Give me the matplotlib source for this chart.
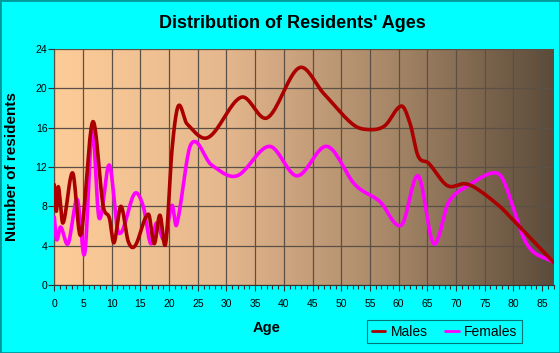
import numpy as np
import matplotlib
matplotlib.use("Agg")
import matplotlib.pyplot as plt
from matplotlib.colors import LinearSegmentedColormap
from matplotlib.patches import Rectangle

plt.rcParams['font.family'] = ['Liberation Sans', 'DejaVu Sans']

title = "Distribution of Residents' Ages"
xlabel = "Age"
ylabel = "Number of residents"

male_age = [0, 0.35, 0.7, 1.5, 3.2, 4.6, 6.7, 8.5, 9.6, 10.4, 11.6, 12.9, 14.1, 16.4,
            17.4, 18.4, 19.4, 20.5, 21.6, 23.1, 26.8, 32.6, 37.1, 42.7, 46.9, 52.1,
            55.0, 57.6, 60.5, 62.0, 63.4, 65.2, 68.5, 71.5, 73.6, 77.6, 80.3, 87]
male_val = [10.2, 7.5, 10.0, 6.3, 11.4, 5.1, 16.6, 8.1, 6.8, 4.3, 8.0, 4.4, 4.0, 7.2,
            4.2, 7.1, 4.2, 13.7, 18.2, 16.4, 15.0, 19.1, 17.0, 22.1, 19.5, 16.3,
            15.8, 16.2, 18.2, 16.4, 13.1, 12.4, 10.1, 10.3, 9.8, 8.0, 6.4, 2.3]

female_age = [0, 0.4, 1.1, 2.4, 4.0, 5.3, 6.6, 7.8, 9.6, 11.2, 14.0, 15.5, 16.8,
              17.8, 19.2, 20.5, 21.3, 23.8, 27.4, 31.8, 37.5, 42.3, 47.5, 52.4,
              56.7, 60.5, 63.4, 66.1, 68.7, 72.4, 76.4, 78.2, 82.3, 87]
female_val = [6.9, 4.6, 5.9, 4.2, 8.7, 3.2, 15.8, 6.8, 12.2, 5.3, 9.3, 8.0, 4.2,
              6.3, 4.6, 8.1, 6.1, 14.3, 12.2, 11.1, 14.1, 11.1, 14.1, 10.2,
              8.5, 6.1, 11.1, 4.2, 8.4, 10.2, 11.4, 10.7, 4.2, 2.3]

xticks = list(range(0, 90, 5))
yticks = list(range(0, 28, 4))


def smooth(xs, ys, n=20):
    xs = np.asarray(xs, float)
    ys = np.asarray(ys, float)
    m = np.zeros_like(ys)
    m[1:-1] = (ys[2:] - ys[:-2]) / (xs[2:] - xs[:-2])
    m[0] = (ys[1] - ys[0]) / (xs[1] - xs[0])
    m[-1] = (ys[-1] - ys[-2]) / (xs[-1] - xs[-2])
    ox, oy = [], []
    for i in range(len(xs) - 1):
        h = xs[i + 1] - xs[i]
        t = np.linspace(0, 1, n, endpoint=False)
        h00 = 2 * t**3 - 3 * t**2 + 1
        h10 = t**3 - 2 * t**2 + t
        h01 = -2 * t**3 + 3 * t**2
        h11 = t**3 - t**2
        ox.extend(xs[i] + t * h)
        oy.extend(h00 * ys[i] + h10 * h * m[i] + h01 * ys[i + 1] + h11 * h * m[i + 1])
    ox.append(xs[-1])
    oy.append(ys[-1])
    return np.array(ox), np.array(oy)


fig = plt.figure(figsize=(5.6, 3.53), dpi=100, facecolor='#00ffff')
ax = fig.add_axes([54.3 / 560, 1 - 285 / 353, (553.6 - 54.3) / 560, (285 - 49) / 353])
ax.set_xlim(0, 87)
ax.set_ylim(0, 24)

cmap = LinearSegmentedColormap.from_list('bg', ['#fdcc98', '#e6b88e', '#a88868', '#5c4b3a'])
grad = np.linspace(0, 1, 256).reshape(1, -1)
ax.imshow(grad, cmap=cmap, aspect='auto', extent=[0, 87, 0, 24], zorder=0)

ax.set_xticks(xticks)
ax.set_xticks(range(0, 88), minor=True)
ax.set_yticks(yticks)
ax.grid(True, which='major', color='#5a5046', linewidth=0.9, zorder=1)
ax.set_axisbelow(False)

mx, my = smooth(male_age, male_val)
fx, fy = smooth(female_age, female_val)
ax.plot(fx, fy, color='#ff00ff', lw=2.6, zorder=3, label='Females', solid_capstyle='round')
ax.plot(mx, my, color='#aa0000', lw=2.6, zorder=4, label='Males', solid_capstyle='round')

for s in ['top', 'right']:
    ax.spines[s].set_visible(False)
for s in ['left', 'bottom']:
    ax.spines[s].set_color('#333333')
    ax.spines[s].set_linewidth(0.8)

ax.tick_params(axis='both', which='major', labelsize=7.5, colors='#333333', labelcolor='black', length=4, width=0.8)
ax.tick_params(axis='x', which='minor', length=3, width=0.8, colors='#333333')
ax.tick_params(axis='x', pad=6)
ax.tick_params(axis='y', pad=1)

fig.text(292 / 560, 1 - 24 / 353, title, ha='center', va='center', fontsize=13, fontweight='bold')
fig.text(267 / 560, 1 - 328 / 353, xlabel, ha='center', va='center', fontsize=10.5, fontweight='bold')
fig.text(12 / 560, 1 - 167 / 353, ylabel, ha='center', va='center', rotation=90, fontsize=11, fontweight='bold')

handles, labels = ax.get_legend_handles_labels()
leg = fig.legend([handles[1], handles[0]], [labels[1], labels[0]], loc='center',
                 bbox_to_anchor=(444.5 / 560, 1 - 331.5 / 353), ncol=2, frameon=True,
                 fancybox=False, edgecolor='#007777', facecolor='#00ffff', framealpha=1,
                 fontsize=10, handlelength=1.0, handletextpad=0.4, columnspacing=1.2,
                 borderpad=0.35)
for h in leg.get_lines():
    h.set_linewidth(2)
leg.get_frame().set_linewidth(0.8)

fig.patches.append(Rectangle((0, 0), 1, 1, transform=fig.transFigure, fill=False,
                             edgecolor='#009999', linewidth=2, zorder=10))

fig.savefig('out.png', dpi=100, facecolor=fig.get_facecolor())
